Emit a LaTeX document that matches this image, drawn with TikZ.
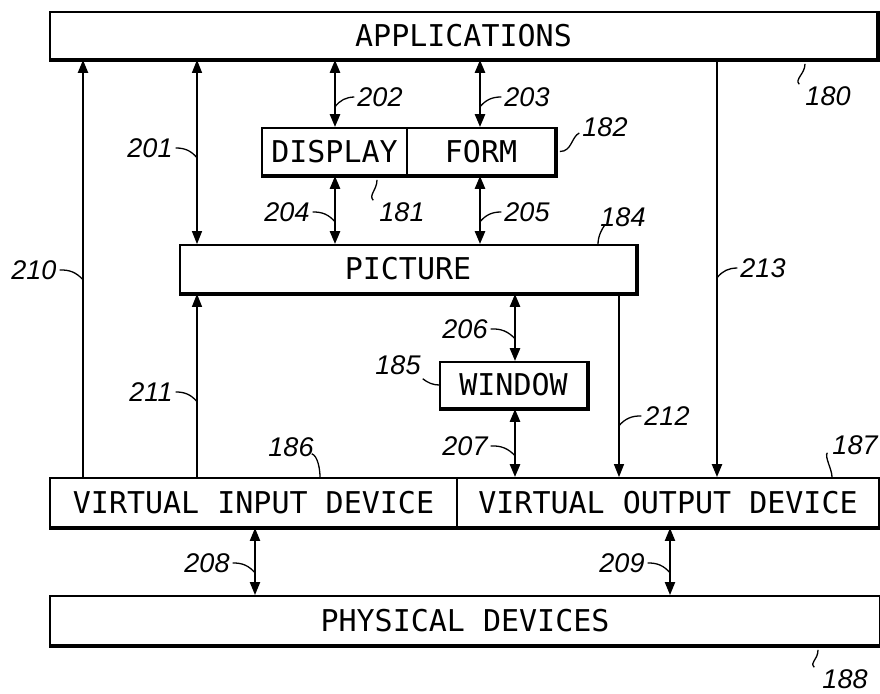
\documentclass[tikz,border=0pt]{standalone}
\usepackage{fontspec}
\setmonofont{DejaVu Sans Mono}
\newfontfamily\refnum{Liberation Sans}
\usetikzlibrary{arrows.meta}

\tikzset{
  box/.style={draw, line width=1.8pt, inner sep=0pt, font=\ttfamily\fontsize{30}{30}\selectfont},
  shadowline/.style={line width=3.5pt, shift={(1.5,1.5)}},
  link/.style={line width=2.6pt, {Triangle[length=13pt,width=10pt]}-{Triangle[length=13pt,width=10pt]}},
  uplink/.style={line width=2.2pt, -{Triangle[length=13pt,width=10pt]}},
  thinlink/.style={line width=1.4pt, -{Triangle[length=13pt,width=10pt]}},
  num/.style={font=\refnum\itshape\fontsize{27}{27}\selectfont, inner sep=0pt},
  lead/.style={line width=1.3pt},
}

\begin{document}
\begin{tikzpicture}[x=1pt, y=-1pt]
\clip (0,0) rectangle (880,693);
\fill[white] (0,0) rectangle (880,693);

% boxes
\node[box, minimum width=827pt, minimum height=47pt] (apps) at (463.5,35.5) {APPLICATIONS};
\node[box, minimum width=145pt, minimum height=47pt] (display) at (334.5,151.5) {DISPLAY};
\node[box, minimum width=148pt, minimum height=47pt] (form) at (481,151.5) {FORM};
\node[box, minimum width=456pt, minimum height=48pt] (picture) at (408,269) {PICTURE};
\node[box, minimum width=147pt, minimum height=46pt] (window) at (513.5,385) {WINDOW};
\node[box, minimum width=407pt, minimum height=49pt] (vid) at (253.5,502.5) {VIRTUAL INPUT DEVICE};
\node[box, minimum width=422pt, minimum height=49pt] (vod) at (668,502.5) {VIRTUAL OUTPUT DEVICE};
\node[box, minimum width=830pt, minimum height=49pt] (phys) at (465,620.5) {PHYSICAL DEVICES};

% shadows
\draw[shadowline] (apps.south west) -- (apps.south east) -- (apps.north east);
\draw[shadowline] (display.south west) -- (form.south east) -- (form.north east);
\draw[shadowline] (picture.south west) -- (picture.south east) -- (picture.north east);
\draw[shadowline] (window.south west) -- (window.south east) -- (window.north east);
\draw[shadowline] (vid.south west) -- (vod.south east) -- (vod.north east);
\draw[shadowline] (phys.south west) -- (phys.south east) -- (phys.north east);

% connectors
\draw[uplink] (83,0 |- vid.north) -- (83,0 |- apps.south);
\draw[link, line width=1.4pt] (197,0 |- apps.south) -- (197,0 |- picture.north);
\draw[link] (335,0 |- apps.south) -- (335,0 |- display.north);
\draw[link] (480,0 |- apps.south) -- (480,0 |- form.north);
\draw[link] (335,0 |- display.south) -- (335,0 |- picture.north);
\draw[link] (480,0 |- form.south) -- (480,0 |- picture.north);
\draw[thinlink] (197,0 |- vid.north) -- (197,0 |- picture.south);
\draw[link] (515,0 |- picture.south) -- (515,0 |- window.north);
\draw[link] (515,0 |- window.south) -- (515,0 |- vod.north);
\draw[thinlink] (619,0 |- picture.south) -- (619,0 |- vod.north);
\draw[uplink] (717,0 |- apps.south) -- (717,0 |- vod.north);
\draw[link, line width=2pt] (255,0 |- vid.south) -- (255,0 |- phys.north);
\draw[link, line width=2pt] (670,0 |- vod.south) -- (670,0 |- phys.north);

% reference numbers
\node[num] (n180) at (828,96) {180};
\node[num] (n181) at (402,212) {181};
\node[num] (n182) at (605,127) {182};
\node[num] (n184) at (623,217) {184};
\node[num] (n185) at (398,365) {185};
\node[num] (n186) at (291,447) {186};
\node[num] (n187) at (855,445) {187};
\node[num] (n188) at (845,679) {188};
\node[num] (n201) at (150,148) {201};
\node[num] (n202) at (380,97) {202};
\node[num] (n203) at (527,97) {203};
\node[num] (n204) at (287,212) {204};
\node[num] (n205) at (527,212) {205};
\node[num] (n206) at (465,329) {206};
\node[num] (n207) at (465,446) {207};
\node[num] (n208) at (207,563) {208};
\node[num] (n209) at (622,563) {209};
\node[num] (n210) at (34,270) {210};
\node[num] (n211) at (151,392) {211};
\node[num] (n212) at (667,416) {212};
\node[num] (n213) at (763,268) {213};

% leader lines
\draw[lead] (805,0 |- apps.south) ++(0,4) .. controls +(0,10) and +(-5,-5) .. ([xshift=-6pt, yshift=2pt]n180.north west);
\draw[lead] (377,0 |- display.south) ++(0,4) .. controls +(0,10) and +(-5,-5) .. ([xshift=-6pt, yshift=2pt]n181.north west);
\draw[lead] ([xshift=4pt]form.east) .. controls +(12,0) and +(-8,4) .. ([xshift=-3pt, yshift=-6pt]n182.west);
\draw[lead] (598,0 |- picture.north) .. controls +(0,-8) and +(-3,4) .. ([xshift=-18pt, yshift=2pt]n184.south);
\draw[lead] ([xshift=2pt, yshift=-4pt]n185.south east) .. controls +(5,4) and +(-6,0) .. (window.west);
\draw[lead] ([xshift=-2pt, yshift=3pt]n186.south east) .. controls +(6,2) and +(0,-8) .. (320,0 |- vid.north);
\draw[lead] (832,0 |- vod.north) .. controls +(0,-8) and +(-3,4) .. ([xshift=-5pt, yshift=2pt]n187.south west);
\draw[lead] (818,0 |- phys.south) ++(0,4) .. controls +(0,10) and +(-5,-5) .. ([xshift=-8pt, yshift=2pt]n188.north west);
\draw[lead] ([xshift=3pt]n201.east) to[bend left=25] (197,0 |- n201.south);
\draw[lead] (335,0 |- n202.south) to[bend left=25] ([xshift=-3pt]n202.west);
\draw[lead] (480,0 |- n203.south) to[bend left=25] ([xshift=-3pt]n203.west);
\draw[lead] ([xshift=3pt]n204.east) to[bend left=25] (335,0 |- n204.south);
\draw[lead] (480,0 |- n205.south) to[bend left=25] ([xshift=-3pt]n205.west);
\draw[lead] ([xshift=3pt]n206.east) to[bend left=25] (515,0 |- n206.south);
\draw[lead] ([xshift=3pt]n207.east) to[bend left=25] (515,0 |- n207.south);
\draw[lead] ([xshift=3pt]n208.east) to[bend left=25] (255,0 |- n208.south);
\draw[lead] ([xshift=3pt]n209.east) to[bend left=25] (670,0 |- n209.south);
\draw[lead] ([xshift=3pt]n210.east) to[bend left=25] (83,0 |- n210.south);
\draw[lead] ([xshift=3pt]n211.east) to[bend left=25] (197,0 |- n211.south);
\draw[lead] (619,0 |- n212.south) to[bend left=25] ([xshift=-3pt]n212.west);
\draw[lead] (717,0 |- n213.south) to[bend left=25] ([xshift=-3pt]n213.west);
\end{tikzpicture}
\end{document}
